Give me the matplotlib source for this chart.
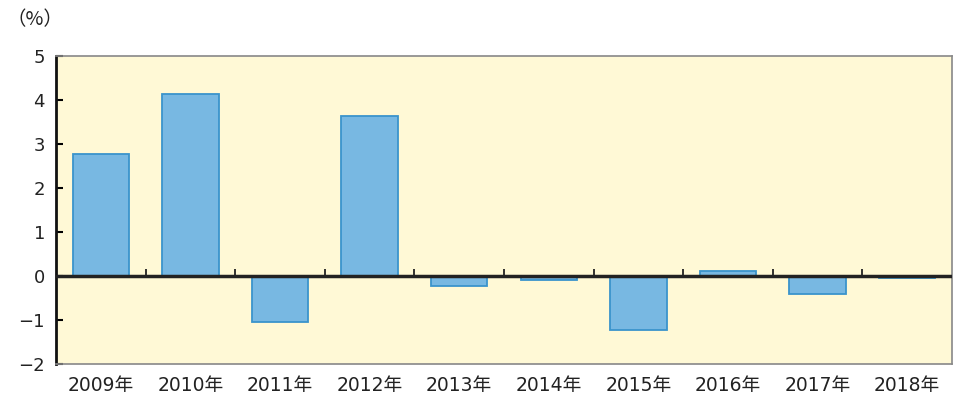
import matplotlib

matplotlib.use("Agg")

import matplotlib.pyplot as plt
import numpy as np

plt.rcParams["font.family"] = ["DejaVu Sans", "Noto Sans CJK JP"]

years = ["2009年", "2010年", "2011年", "2012年", "2013年",
         "2014年", "2015年", "2016年", "2017年", "2018年"]
growth = [2.77, 4.14, -1.05, 3.64, -0.23, -0.09, -1.23, 0.11, -0.41, -0.04]
y_ticks = [-2, -1, 0, 1, 2, 3, 4, 5]

BAR_FACE = "#78B8E2"
BAR_EDGE = "#3A94CC"
PANEL_BG = "#FFF9D6"

fig = plt.figure(figsize=(9.54, 4.01), dpi=100)
ax = fig.add_axes([56 / 954, 37 / 401, 896 / 954, 308 / 401])
ax.set_facecolor(PANEL_BG)

x = np.arange(len(years))
ax.bar(x, growth, width=0.63, color=BAR_FACE, edgecolor=BAR_EDGE, linewidth=1.3, zorder=2)

ax.set_xlim(-0.5, len(years) - 0.5)
ax.set_ylim(-2, 5)
ax.set_yticks(y_ticks)
ax.set_yticklabels([f"{v}".replace("-", "\u2212") for v in y_ticks], fontsize=13)
ax.set_xticks(x)
ax.set_xticklabels(years, fontsize=13.5)
ax.tick_params(axis="x", length=0, pad=9, colors="#222222")
ax.tick_params(axis="y", direction="in", length=5, width=1.5, pad=8, labelcolor="#222222")

# zero line with category-boundary ticks
ax.axhline(0, color="#222222", linewidth=2.5, zorder=3)
ax.vlines(x[:-1] + 0.5, 0, 0.15, color="#222222", linewidth=1.3, zorder=3)

for side in ("top", "right", "bottom"):
    ax.spines[side].set_color("#888888")
    ax.spines[side].set_linewidth(1.2)
ax.spines["left"].set_color("#111111")
ax.spines["left"].set_linewidth(2)

fig.text(6 / 954, 1 - 20 / 401, "（%）", fontsize=14, va="center", ha="left",
         family=["Noto Sans CJK JP", "DejaVu Sans"], color="#222222")

fig.savefig("out.png", dpi=100)
